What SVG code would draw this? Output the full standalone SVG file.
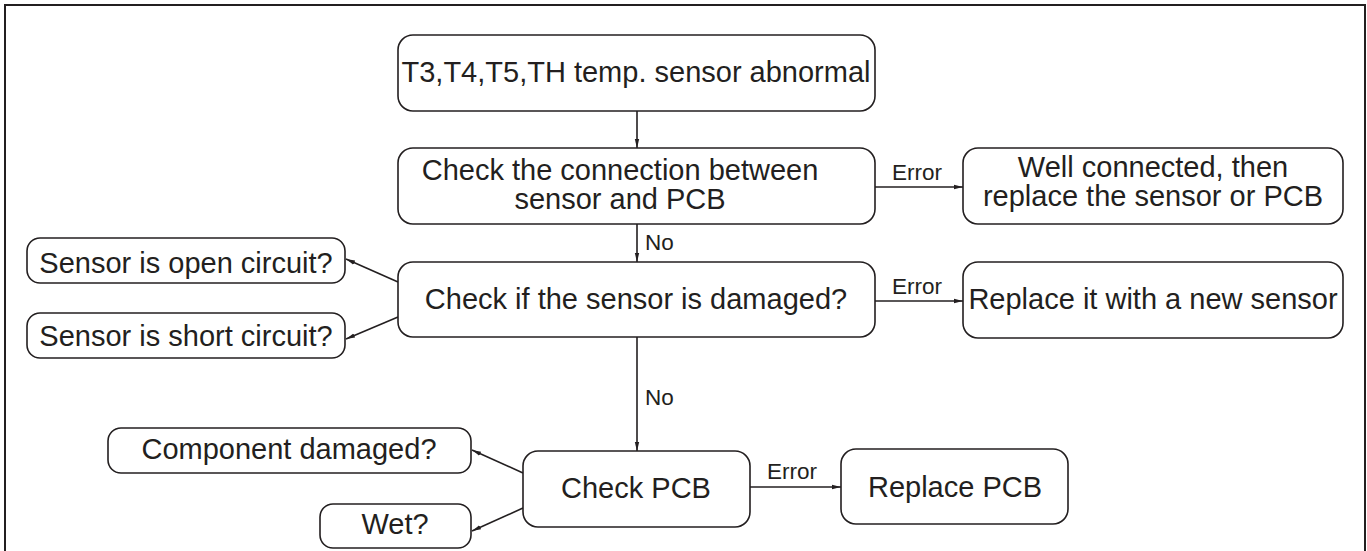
<svg xmlns="http://www.w3.org/2000/svg" width="1367" height="551" viewBox="0 0 1367 551">
<defs>
<marker id="ah" markerWidth="10" markerHeight="6" refX="9" refY="3" orient="auto" markerUnits="userSpaceOnUse">
<path d="M0,0.8 L9,3 L0,5.2 Z" fill="#231f20"/>
</marker>
<style>
.box{fill:#fff;stroke:#231f20;stroke-width:1.6}
.t{font-family:"Liberation Sans",Arial,sans-serif;font-size:29px;fill:#231f20;text-anchor:middle}
.l{font-family:"Liberation Sans",Arial,sans-serif;font-size:22.5px;fill:#231f20}
.c{fill:none;stroke:#231f20;stroke-width:1.6;marker-end:url(#ah)}
</style>
</defs>
<rect x="0" y="0" width="1367" height="551" fill="#fff"/>
<rect x="5" y="5" width="1360" height="560" fill="none" stroke="#231f20" stroke-width="2"/>
<g id="connectors">
<line class="c" x1="637" y1="111" x2="637" y2="148"/>
<line class="c" x1="875" y1="187" x2="963" y2="187"/>
<line class="c" x1="637" y1="224" x2="637" y2="262"/>
<line class="c" x1="875" y1="301" x2="963" y2="301"/>
<line class="c" x1="398" y1="282" x2="346" y2="259"/>
<line class="c" x1="398" y1="317" x2="346" y2="339"/>
<line class="c" x1="637" y1="337" x2="637" y2="451"/>
<line class="c" x1="750" y1="487" x2="841" y2="487"/>
<line class="c" x1="523" y1="473" x2="472" y2="450"/>
<line class="c" x1="523" y1="508" x2="472" y2="531"/>
<text class="l" x="892" y="180">Error</text>
<text class="l" x="645" y="250">No</text>
<text class="l" x="892" y="294">Error</text>
<text class="l" x="645" y="405">No</text>
<text class="l" x="767" y="479">Error</text>
</g>
<g id="n1"><rect class="box" x="398" y="35" width="477" height="76" rx="15"/><text class="t" x="636" y="82">T3,T4,T5,TH temp. sensor abnormal</text></g>
<g id="n2"><rect class="box" x="398" y="148" width="477" height="76" rx="15"/><text class="t" x="620" y="180">Check the connection between</text><text class="t" x="620" y="209">sensor and PCB</text></g>
<g id="n3"><rect class="box" x="963" y="148" width="380" height="76" rx="15"/><text class="t" x="1153" y="177">Well connected, then</text><text class="t" x="1153" y="206">replace the sensor or PCB</text></g>
<g id="n4"><rect class="box" x="398" y="262" width="477" height="75" rx="15"/><text class="t" x="636" y="309">Check if the sensor is damaged?</text></g>
<g id="n5"><rect class="box" x="963" y="262" width="380" height="76" rx="15"/><text class="t" x="1153" y="309">Replace it with a new sensor</text></g>
<g id="n6"><rect class="box" x="27" y="238" width="318" height="45" rx="13"/><text class="t" x="186" y="273">Sensor is open circuit?</text></g>
<g id="n7"><rect class="box" x="27" y="313" width="318" height="45" rx="13"/><text class="t" x="186" y="346">Sensor is short circuit?</text></g>
<g id="n8"><rect class="box" x="523" y="451" width="227" height="76" rx="15"/><text class="t" x="636" y="498">Check PCB</text></g>
<g id="n9"><rect class="box" x="841" y="449" width="227" height="75" rx="15"/><text class="t" x="955" y="497">Replace PCB</text></g>
<g id="n10"><rect class="box" x="108" y="428" width="363" height="45" rx="13"/><text class="t" x="289" y="459">Component damaged?</text></g>
<g id="n11"><rect class="box" x="320" y="504" width="151" height="44" rx="13"/><text class="t" x="395" y="534">Wet?</text></g>
</svg>
